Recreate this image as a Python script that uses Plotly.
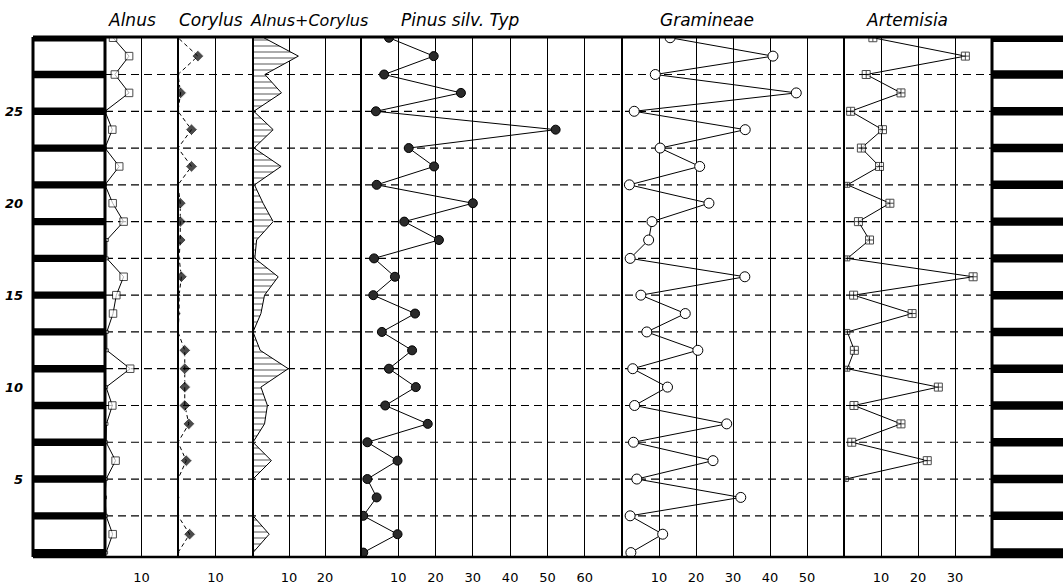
import plotly.graph_objects as go

# ---------------- data (sample 1 = bottom ... sample 29 = top) ----------------
samples = list(range(1, 30))
strata = [1, 3, 5, 7, 9, 11, 13, 15, 17, 19, 21, 23, 25, 27, 29]
dashed_levels = [3, 5, 7, 9, 11, 13, 15, 17, 19, 21, 23, 25, 27]
depth_ticks = [5, 10, 15, 20, 25]

alnus = [0.3, 2.1, 0.3, 0, 0.3, 2.9, 0.3, 0.4, 2.0, 0.3, 6.9, 0.5, 0.5, 2.2, 3.1,
         5.1, 0.5, 0.5, 5.1, 2.1, 0, 3.9, 0, 2.0, 0, 6.6, 2.7, 6.6, 2.2]
corylus = [0, 3.1, 0, 0, 0, 2.2, 0, 2.9, 1.8, 1.8, 1.8, 1.8, 0, 0.3, 0.3,
           0.9, 0.3, 0.6, 0.6, 0.6, 0, 3.6, 0, 3.6, 0, 0.7, 0, 5.3, 0]
alnus_corylus = [0, 4.5, 0, 0, 0, 5.1, 0, 3.2, 4.0, 2.2, 9.8, 2.0, 0, 2.2, 3.2,
                 7.0, 0.5, 1.0, 5.6, 2.8, 0.4, 7.8, 0.3, 5.6, 0.2, 7.9, 3.3, 12.6, 3.0]
pinus = [0.6, 9.8, 0.6, 4.2, 1.7, 9.8, 1.7, 17.9, 6.5, 14.7, 7.5, 13.7, 5.6, 14.5, 3.3,
         9.1, 3.5, 20.9, 11.6, 30.0, 4.2, 19.6, 12.8, 52.2, 4.0, 26.8, 6.2, 19.5, 7.5]
gramineae = [2.4, 11.0, 2.2, 32.1, 4.0, 24.6, 3.1, 28.3, 3.4, 12.3, 2.9, 20.5, 6.7, 17.1, 5.1,
             33.2, 2.2, 7.2, 8.1, 23.5, 2.0, 21.0, 10.3, 33.3, 3.3, 47.1, 9.0, 40.8, 13.0]
artemisia = [None, None, None, None, 0.5, 22.5, 2.1, 15.4, 2.7, 25.5, 0.9, 2.8, 0.9, 18.4, 2.6,
             34.9, 0.9, 6.9, 3.9, 12.4, 0.9, 9.6, 4.7, 10.4, 1.8, 15.4, 6.0, 32.8, 7.8]

panel_titles = ["Alnus", "Corylus", "Alnus+Corylus", "Pinus silv. Typ", "Gramineae", "Artemisia"]
panel_max = [20, 20, 30, 70, 60, 40]

# ---------------- layout geometry (pixels) ----------------
W, H = 1063, 584
ML, MR, MT, MB = 33, 0, 37, 27
PW = W - ML - MR
edges = [33, 105, 178, 253, 361, 622, 844, 992, 1063]


def dom(a, b):
    return [max(0, (a - ML) / PW), min(1, (b - ML) / PW)]


fig = go.Figure()

# stratigraphic strips
fig.add_trace(go.Bar(x=[1] * len(strata), y=strata, orientation="h", width=0.4,
                     marker=dict(color="black", line=dict(width=0)),
                     xaxis="x", yaxis="y", showlegend=False, hoverinfo="skip"))
fig.add_trace(go.Bar(x=[1] * len(strata), y=strata, orientation="h", width=0.46,
                     marker=dict(color="black", line=dict(width=0)),
                     xaxis="x8", yaxis="y", showlegend=False, hoverinfo="skip"))

# Alnus
fig.add_trace(go.Scatter(x=alnus, y=samples, mode="lines+markers", xaxis="x2", yaxis="y",
                         line=dict(color="black", width=1),
                         marker=dict(symbol="square", color="white",
                                     size=[7.5 if v >= 1 else 3 for v in alnus],
                                     line=dict(color="black", width=1)),
                         showlegend=False))
# Corylus
fig.add_trace(go.Scatter(x=corylus, y=samples, mode="lines+markers", xaxis="x3", yaxis="y",
                         line=dict(color="black", width=1, dash="4px,3px"),
                         marker=dict(symbol="diamond", color="black",
                                     size=[9 if v >= 0.5 else 3 for v in corylus]),
                         showlegend=False))
# Alnus + Corylus (hatched)
fig.add_trace(go.Scatter(x=alnus_corylus, y=samples, mode="lines", xaxis="x4", yaxis="y",
                         fill="tozerox",
                         fillpattern=dict(shape="-", size=6, solidity=0.22,
                                          fgcolor="black", bgcolor="white"),
                         fillcolor="white",
                         line=dict(color="black", width=1),
                         showlegend=False))
# Pinus
fig.add_trace(go.Scatter(x=pinus, y=samples, mode="lines+markers", xaxis="x5", yaxis="y",
                         line=dict(color="black", width=1),
                         marker=dict(symbol="circle", color="#2a2a2a", size=9,
                                     line=dict(color="black", width=1)),
                         showlegend=False))
# Gramineae
fig.add_trace(go.Scatter(x=gramineae, y=samples, mode="lines+markers", xaxis="x6", yaxis="y",
                         line=dict(color="black", width=1),
                         marker=dict(symbol="circle", color="white", size=10,
                                     line=dict(color="black", width=1)),
                         showlegend=False))
# Artemisia
fig.add_trace(go.Scatter(x=artemisia, y=samples, mode="lines+markers", xaxis="x7", yaxis="y",
                         line=dict(color="black", width=1),
                         connectgaps=False,
                         marker=dict(symbol="square-cross", color="white",
                                     size=[8 if (v is not None and v >= 1) else 5 for v in artemisia],
                                     line=dict(color="black", width=1)),
                         showlegend=False))

tickfont = dict(family="DejaVu Sans", size=13, color="black")

layout = dict(
    width=W, height=H, margin=dict(l=ML, r=MR, t=MT, b=MB, autoexpand=False),
    paper_bgcolor="white", plot_bgcolor="white", barmode="overlay",
    showlegend=False,
    yaxis=dict(domain=[0, 1], range=[0.76, 29.04], anchor="x", showgrid=False,
               zeroline=False, showline=False, ticks="",
               tickvals=depth_ticks, ticktext=[str(v) for v in depth_ticks],
               tickfont=dict(family="DejaVu Sans", size=13, color="black",
                             style="italic", weight="bold"),
               ticklabelstandoff=9),
    xaxis=dict(domain=dom(edges[0], edges[1]), range=[0, 1], anchor="y",
               showgrid=False, zeroline=False, showticklabels=False, ticks=""),
    xaxis8=dict(domain=dom(edges[7], edges[8]), range=[0, 1], anchor="y",
                showgrid=False, zeroline=False, showticklabels=False, ticks=""),
)
for i, mx in enumerate(panel_max):
    name = "xaxis%d" % (i + 2)
    tv = list(range(10, mx, 10))
    layout[name] = dict(domain=dom(edges[i + 1], edges[i + 2]), range=[0, mx], anchor="y",
                        tickvals=tv, ticktext=[str(v) for v in tv],
                        showgrid=True, gridcolor="black", gridwidth=1,
                        zeroline=False, showline=False, ticks="",
                        tickfont=tickfont, ticklabelstandoff=11)
fig.update_layout(**layout)

shapes = []
# dashed horizontal sample lines across the pollen panels
for k in dashed_levels:
    shapes.append(dict(type="line", xref="paper", yref="y",
                       x0=dom(edges[1], edges[1])[0], x1=dom(edges[7], edges[7])[0],
                       y0=k, y1=k, layer="below",
                       line=dict(color="black", width=1.2, dash="8px,5px")))
# vertical panel borders
bw = [3, 3, 2, 2, 2, 2, 2, 3]
for e, w in zip(edges[:-1], bw):
    xp = (e - ML) / PW
    shapes.append(dict(type="line", xref="paper", yref="paper", x0=xp, x1=xp, y0=0, y1=1,
                       line=dict(color="black", width=w)))
# top and bottom frame
shapes.append(dict(type="line", xref="paper", yref="paper", x0=0, x1=1, y0=1, y1=1,
                   line=dict(color="black", width=3)))
shapes.append(dict(type="line", xref="paper", yref="paper", x0=0, x1=1, y0=0, y1=0,
                   line=dict(color="black", width=2.5)))
fig.update_layout(shapes=shapes)

# panel titles
title_centers = [132, 211, 309, 460, 707, 907]
title_sizes = [17, 17, 16, 17, 17, 17]
annos = []
for t, cx, fs in zip(panel_titles, title_centers, title_sizes):
    annos.append(dict(text=t, xref="paper", yref="paper",
                      x=(cx - ML) / PW, y=1, yshift=17, showarrow=False,
                      xanchor="center", yanchor="middle",
                      font=dict(family="DejaVu Sans", size=fs, color="black", style="italic")))
fig.update_layout(annotations=annos)

fig.write_html("out.html",
               config={"displayModeBar": False},
               post_script="document.body.style.margin='0';document.body.style.padding='0';"
                           "document.body.style.overflow='hidden';")
